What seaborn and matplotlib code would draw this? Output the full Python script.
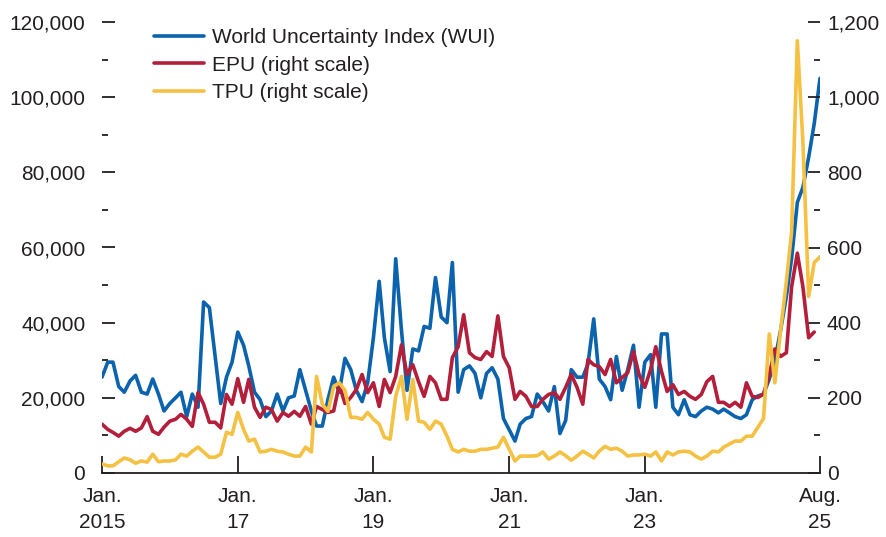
import matplotlib
matplotlib.use("Agg")
import matplotlib.pyplot as plt
import matplotlib.ticker as mticker
import numpy as np
import pandas as pd
import seaborn as sns

# Índice de incertidumbre mundial (WUI), en miles, mensual desde ene. 2015
wui_miles = [
    25.5, 29.5, 29.5, 23, 21.5, 24.5, 26, 21.5, 21, 25, 21, 16.5,        # 2015
    18.5, 20, 21.5, 15, 21, 17.5, 45.5, 44, 31, 18.5, 25.5, 29.5,        # 2016
    37.5, 34, 28.5, 21.5, 19.5, 15, 16.5, 21, 16.5, 20, 20.5, 27.5,      # 2017
    22, 16.5, 12.5, 12.5, 19.5, 25.5, 21.5, 30.5, 27.5, 22, 19, 24,      # 2018
    36, 51, 36, 27, 57, 38, 22, 33, 32.5, 39, 38.5, 52,                  # 2019
    41.5, 40, 56, 21.5, 27.5, 28.5, 26.5, 20, 26.5, 28, 25, 14.5,        # 2020
    11.5, 8.5, 13, 14.5, 15, 21, 19, 16.5, 23, 10.5, 14, 27.5,           # 2021
    25.5, 25.5, 29, 41, 25, 23, 19.5, 31, 22, 27.5, 34, 17.5,            # 2022
    29.5, 31.5, 17.5, 37, 37, 17.5, 15.5, 19.5, 15.5, 15, 16.5, 17.5,    # 2023
    17, 16, 17, 16, 15, 14.5, 15.5, 19.5, 20.5, 21, 25, 30,              # 2024
    38, 47, 57, 72, 76, 84, 93, 105,                                     # 2025
]

# EPU (escala derecha)
epu = [
    130, 116, 108, 98, 111, 119, 111, 120, 150, 111, 103, 122,
    138, 143, 156, 143, 124, 214, 183, 135, 135, 120, 209, 183,
    251, 188, 249, 175, 148, 175, 169, 138, 161, 151, 164, 151,
    177, 130, 177, 169, 161, 165, 235, 185, 201, 222, 262, 214,
    240, 177, 249, 214, 257, 341, 262, 288, 243, 204, 257, 240,
    196, 196, 307, 336, 421, 320, 307, 302, 323, 310, 418, 310,
    280, 196, 217, 204, 177, 177, 196, 209, 214, 196, 228, 262,
    228, 183, 302, 288, 283, 262, 302, 240, 254, 267, 323, 262,
    228, 275, 336, 270, 217, 235, 209, 217, 204, 196, 209, 243,
    257, 188, 188, 177, 188, 175, 240, 204, 201, 210, 260, 330,
    310, 320, 495, 585, 495, 360, 375, np.nan,
]

# TPU (escala derecha)
tpu = [
    24, 19, 19, 30, 40, 35, 26, 32, 29, 50, 30, 32,
    32, 35, 50, 45, 58, 69, 56, 42, 42, 50, 108, 103,
    161, 116, 85, 90, 56, 58, 63, 58, 56, 50, 45, 45,
    69, 56, 257, 183, 164, 230, 240, 220, 148, 148, 143, 161,
    143, 130, 95, 90, 204, 257, 143, 249, 138, 135, 116, 138,
    130, 98, 63, 56, 63, 58, 58, 63, 63, 66, 69, 95,
    63, 32, 45, 45, 45, 46, 56, 37, 45, 56, 46, 34,
    45, 58, 50, 40, 58, 71, 63, 66, 58, 45, 48, 48,
    50, 45, 56, 32, 56, 48, 56, 58, 56, 45, 37, 45,
    58, 56, 69, 77, 85, 85, 98, 98, 122, 145, 370, 240,
    380, 510, 640, 1150, 880, 470, 560, 575,
]

etiquetas = ["World Uncertainty Index (WUI)", "EPU (right scale)", "TPU (right scale)"]
fechasTicks = ["2015-01-01", "2017-01-01", "2019-01-01", "2021-01-01", "2023-01-01", "2025-08-01"]
textoTicks = ["Jan.\n2015", "Jan.\n17", "Jan.\n19", "Jan.\n21", "Jan.\n23", "Aug.\n25"]

fechas = pd.date_range("2015-01-01", periods=len(wui_miles), freq="MS")
datos = pd.DataFrame({
    "fecha": fechas,
    "WUI": np.array(wui_miles) * 1000,
    "EPU": epu,
    "TPU": tpu,
})

azul = "#0b63ad"
rojo = "#b31f3b"
amarillo = "#f5c143"
gris = "#231f20"
tam = 15

sns.set_theme(style="ticks")
plt.rcParams['font.family'] = ['Liberation Sans', 'DejaVu Sans']

fig = plt.figure(figsize=(8.86, 5.37), dpi=100)
ax = fig.add_axes([102/886, 64/537, 718/886, 451/537])
ax2 = ax.twinx()

sns.lineplot(data=datos, x="fecha", y="WUI", ax=ax, color=azul, linewidth=2.6, legend=False)
sns.lineplot(data=datos, x="fecha", y="EPU", ax=ax2, color=rojo, linewidth=2.6, legend=False)
sns.lineplot(data=datos, x="fecha", y="TPU", ax=ax2, color=amarillo, linewidth=2.6, legend=False)

ax.set_xlim(fechas[0], fechas[-1])
ax.set_ylim(0, 120000)
ax2.set_ylim(0, 1200)
ax.set_xlabel("")
ax.set_ylabel("")
ax2.set_ylabel("")

# Ejes y marcas
for lado in ["left", "right", "top"]:
    ax.spines[lado].set_visible(False)
for lado in ["left", "right", "top", "bottom"]:
    ax2.spines[lado].set_visible(False)
ax.spines["bottom"].set_color(gris)
ax.spines["bottom"].set_linewidth(1.3)

ax.set_xticks(pd.to_datetime(fechasTicks))
ax.set_xticklabels(textoTicks, linespacing=1.5)
ax.xaxis.set_minor_locator(mticker.NullLocator())

ax.yaxis.set_major_locator(mticker.MultipleLocator(20000))
ax.yaxis.set_minor_locator(mticker.MultipleLocator(10000))
ax.yaxis.set_major_formatter(mticker.StrMethodFormatter("{x:,.0f}"))
ax2.yaxis.set_major_locator(mticker.MultipleLocator(200))
ax2.yaxis.set_minor_locator(mticker.MultipleLocator(100))
ax2.yaxis.set_major_formatter(mticker.StrMethodFormatter("{x:,.0f}"))

ax.tick_params(axis="x", which="major", direction="in", length=12, width=1.3,
               color=gris, labelcolor=gris, labelsize=tam, pad=10, bottom=True)
ax.tick_params(axis="y", which="major", direction="in", length=9, width=1.3,
               color=gris, labelcolor=gris, labelsize=tam, pad=12, left=True)
ax.tick_params(axis="y", which="minor", direction="in", length=4, width=1.3,
               color=gris, left=True)
ax2.tick_params(axis="y", which="major", direction="in", length=9, width=1.3,
                color=gris, labelcolor=gris, labelsize=tam, pad=5, right=True)
ax2.tick_params(axis="y", which="minor", direction="in", length=4, width=1.3,
                color=gris, right=True)

lineas = [ax.lines[0], ax2.lines[0], ax2.lines[1]]
fig.legend(lineas, etiquetas, loc="upper left", bbox_to_anchor=(154/886, 1 - 28/537),
           frameon=False, fontsize=tam, handlelength=2.4, handletextpad=0.4,
           labelspacing=0.42, borderpad=0, borderaxespad=0, labelcolor=gris)

fig.savefig("out.png", dpi=100)
